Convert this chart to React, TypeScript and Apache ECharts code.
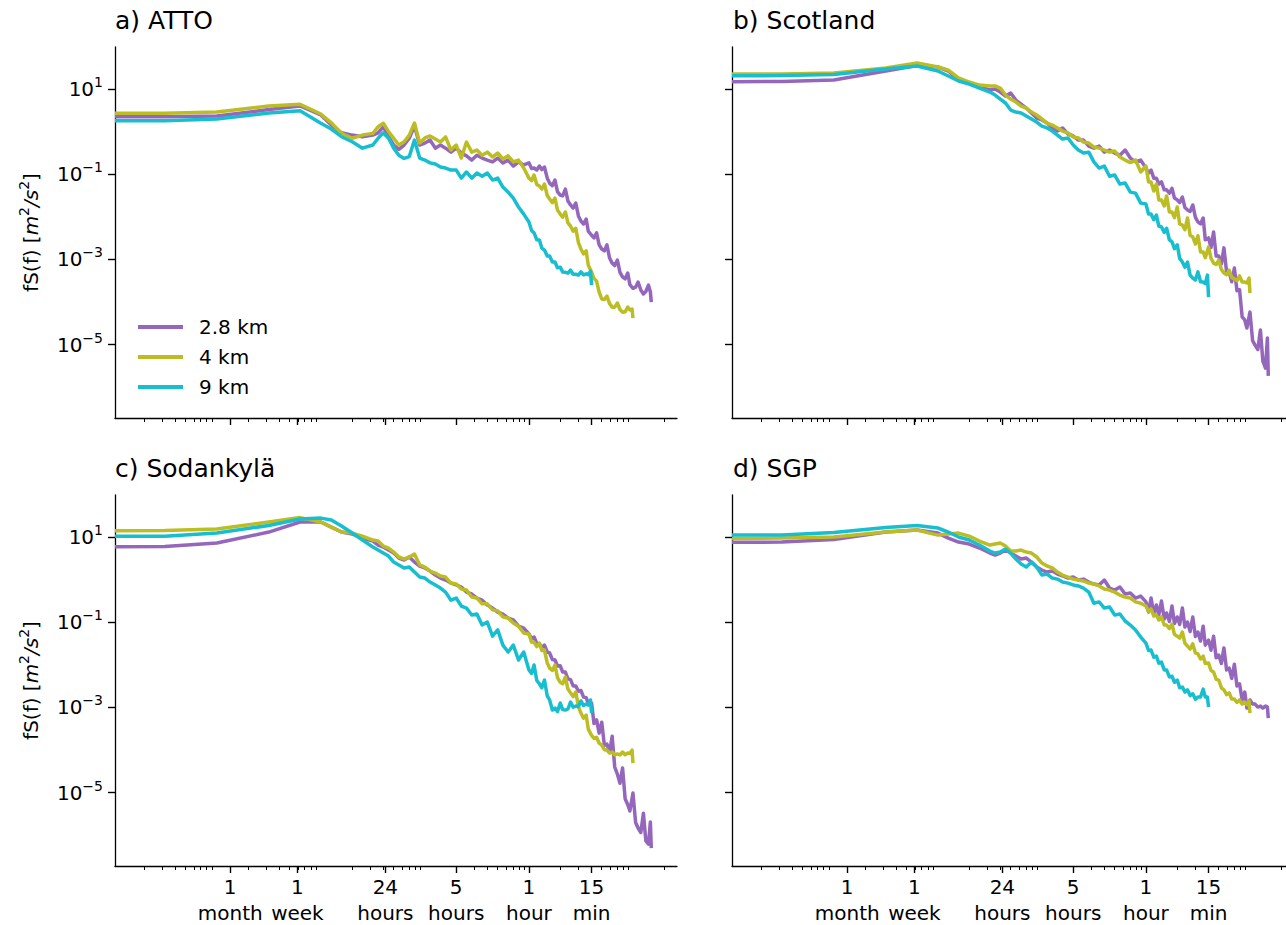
import { useEffect, useRef } from 'react';
import * as echarts from 'echarts';

// Frequency (cycles per hour)
const FREQ_PER_HOUR = [
  1.05e-4, 3.16e-4, 1e-3, 3.16e-3, 6.31e-3, 0.01, 0.0126, 0.0158, 0.02, 0.0251,
  0.0316, 0.0355, 0.0398, 0.0447, 0.0501, 0.0562, 0.0631, 0.0708, 0.0794, 0.0891,
  0.1, 0.112, 0.126, 0.141, 0.158, 0.178, 0.2, 0.224, 0.251, 0.282,
  0.316, 0.355, 0.398, 0.447, 0.501, 0.562, 0.631, 0.708, 0.794, 0.891,
  1, 1.12, 1.26, 1.41, 1.58, 1.78, 2, 2.24, 2.51, 2.82,
  3.16, 3.55, 3.9, 4, 4.47, 5.01, 5.62, 6.31, 7.08, 7.94,
  8.91, 9.8, 10, 11.2, 12.6, 14.1, 14.7, 15,
];
// Extra high-frequency samples (other edge of the noisy band)
const FREQ_MID_PER_HOUR = [
  1.06, 1.19, 1.33, 1.5, 1.68, 1.88, 2.11, 2.37, 2.66, 2.99,
  3.35, 3.72, 4.22, 4.73, 5.31, 5.96, 6.68, 7.5, 8.41, 9.34,
  10.6, 11.9, 13.3,
];

const SERIES_NAMES = ['2.8 km', '4 km', '9 km'];
const SERIES_COLORS = ['#9467bd', '#bcbd22', '#17becf'];
const PANEL_TITLES = ['a) ATTO', 'b) Scotland', 'c) Sodankylä', 'd) SGP'];

const X_TICK_VALUES = [0.001344, 0.005952, 0.041667, 0.2, 1, 4];
const X_TICK_LABELS = ['1\nmonth', '1\nweek', '24\nhours', '5\nhours', '1\nhour', '15\nmin'];
const X_MINOR_TICKS = [
  2e-4, 3e-4, 4e-4, 5e-4, 6e-4, 7e-4, 8e-4, 9e-4,
  0.002, 0.003, 0.004, 0.005, 0.006, 0.007, 0.008, 0.009,
  0.02, 0.03, 0.04, 0.05, 0.06, 0.07, 0.08, 0.09,
  0.2, 0.3, 0.4, 0.5, 0.6, 0.7, 0.8, 0.9,
  2, 3, 4, 5, 6, 7, 8, 9, 20,
];
const Y_TICK_VALUES = [10, 0.1, 0.001, 0.00001];
const X_MIN = 1.05e-4;
const X_MAX = 26.5;
const Y_MIN = 1.9e-7;
const Y_MAX = 97;

// fS(f) [m2/s2]
const ATTO_2P8KM = [
  2.24, 2.25, 2.33, 3.3, 4.0, 2.46, 1.43, 0.94, 0.83, 0.76,
  0.83, 0.94, 1.3, 0.76, 0.485, 0.385, 0.485, 0.70, 1.35, 0.485,
  0.54, 0.635, 0.41, 0.485, 0.41, 0.33, 0.41, 0.315, 0.27, 0.215,
  0.28, 0.24, 0.215, 0.195, 0.24, 0.185, 0.215, 0.156, 0.195, 0.165,
  0.185, 0.14, 0.156, 0.148, 0.062, 0.073, 0.0325, 0.045, 0.019, 0.021,
  0.008, 0.0089, null, 0.0037, 0.0042, 0.00176, 0.0022, 8.2e-4, 9.7e-4, 3.9e-4,
  4.8e-4, null, 2.1e-4, 2.95e-4, 1.55e-4, 2.5e-4, 1.72e-4, 1.0e-4,
];
const ATTO_2P8KM_MID = [
  0.137, 0.126, 0.129, 0.081, 0.054, 0.039, 0.031, 0.0236, 0.0161, 0.0105,
  0.0068, 0.0046, 0.0032, 0.0022, 0.00159, 0.00108, 7.2e-4, 5.0e-4, 3.5e-4, 2.56e-4,
  2.23e-4, 1.92e-4, 1.77e-4,
];
const ATTO_4KM = [
  2.7, 2.7, 2.88, 4.0, 4.37, 2.59, 1.61, 0.91, 0.70, 0.83,
  0.91, 1.3, 1.57, 1.0, 0.70, 0.485, 0.58, 0.83, 1.59, 0.54,
  0.71, 0.79, 0.67, 0.57, 0.75, 0.37, 0.485, 0.24, 0.57, 0.33,
  0.37, 0.28, 0.33, 0.254, 0.315, 0.228, 0.27, 0.195, 0.215, 0.14,
  0.081, 0.096, 0.053, 0.059, 0.0262, 0.0275, 0.0116, 0.013, 0.0061, 0.0054,
  0.00176, 0.00159, null, 5.1e-4, 3.1e-4, 1.18e-4, 1.38e-4, 7.6e-5, 9.5e-5, 5.8e-5,
  7.6e-5, 6.85e-5, 4.2e-5, null, null, null, null, null,
];
const ATTO_4KM_MID = [
  0.071, 0.0575, 0.045, 0.0317, 0.0216, 0.0144, 0.0099, 0.0072, 0.0046, 0.00248,
  0.00135, 7.3e-4, 3.57e-4, 1.72e-4, 1.15e-4, 9.2e-5, 7.6e-5, 6.7e-5, 5.9e-5, 6.5e-5,
  null, null, null,
];
const ATTO_9KM = [
  1.81, 1.81, 1.98, 2.74, 3.1, 1.57, 1.15, 0.76, 0.58, 0.41,
  0.485, 0.70, 0.94, 0.70, 0.41, 0.28, 0.235, 0.26, 0.635, 0.24,
  0.215, 0.185, 0.174, 0.148, 0.14, 0.125, 0.125, 0.081, 0.113, 0.081,
  0.107, 0.09, 0.107, 0.073, 0.081, 0.05, 0.038, 0.0275, 0.017, 0.0116,
  0.0076, 0.0042, 0.00285, 0.00166, 0.0012, 8.7e-4, 6.6e-4, 5.0e-4, 5.6e-4, 4.5e-4,
  5.1e-4, 4.6e-4, 5.3e-4, 2.5e-4, null, null, null, null, null, null,
  null, null, null, null, null, null, null, null,
];
const ATTO_9KM_MID = [
  0.0048, 0.0029, 0.00185, 0.0012, 8.7e-4, 6.4e-4, 5.1e-4, 4.75e-4, 4.5e-4, 4.3e-4,
  4.35e-4, 4.4e-4, null, null, null, null, null, null, null, null,
  null, null, null,
];

const SCOTLAND_2P8KM = [
  14.9, 15.0, 16.3, 26.5, 35.6, 32.9, 26.5, 16.3, 13.8, 11.2,
  9.47, 10, 8.5, 6.85, 8.06, 5.52, 4.45, 3.58, 2.74, 2.09,
  1.88, 1.59, 1.22, 1.03, 1.22, 0.88, 0.79, 0.635, 0.635, 0.46,
  0.41, 0.46, 0.33, 0.37, 0.315, 0.28, 0.37, 0.24, 0.195, 0.215,
  0.14, 0.125, 0.081, 0.066, 0.043, 0.047, 0.025, 0.029, 0.0145, 0.019,
  0.0076, 0.0094, null, 0.0032, 0.0044, 0.0012, 0.00187, 5.1e-4, 6.3e-4, 1.95e-4,
  3.8e-5, null, 5.8e-5, 9.8e-6, 2.2e-5, 2.8e-6, 1.43e-5, 1.85e-6,
];
const SCOTLAND_2P8KM_MID = [
  0.107, 0.081, 0.059, 0.043, 0.036, 0.0276, 0.0217, 0.0165, 0.0134, 0.0097,
  0.0068, 0.0029, 0.0019, 0.0012, 7.8e-4, 5.1e-4, 3.0e-4, 1.85e-4, 4.5e-5, 2.46e-5,
  1.25e-5, 7.7e-6, 4.1e-6,
];
const SCOTLAND_4KM = [
  22.5, 22.5, 23.8, 31.2, 40.8, 32.9, 27.8, 18.2, 14.6, 12.4,
  11.8, 11.8, 10.5, 7.23, 5.83, 4.96, 3.99, 3.58, 2.88, 2.46,
  1.98, 1.59, 1.43, 1.22, 1.03, 0.93, 0.75, 0.71, 0.57, 0.54,
  0.435, 0.41, 0.37, 0.33, 0.35, 0.254, 0.215, 0.188, 0.215, 0.113,
  0.156, 0.066, 0.059, 0.025, 0.031, 0.013, 0.017, 0.0064, 0.0094, 0.0034,
  0.0036, 0.0015, null, 0.00195, 8.2e-4, 9.7e-4, 4.8e-4, 5.6e-4, 3.5e-4, 4.1e-4,
  2.95e-4, 3.65e-4, 1.63e-4, null, null, null, null, null,
];
const SCOTLAND_4KM_MID = [
  0.0658, 0.0405, 0.0249, 0.018, 0.013, 0.0096, 0.0068, 0.005, 0.00366, 0.0023,
  0.0015, 0.0011, 0.00107, 7.6e-4, 5.8e-4, 4.4e-4, 3.8e-4, 3.2e-4, 2.95e-4, 2.8e-4,
  null, null, null,
];
const SCOTLAND_9KM = [
  20.5, 20.7, 21.9, 29.5, 34.7, 26.5, 20.2, 15.4, 13.1, 10.5,
  8.5, 7.23, 5.83, 4.7, 3.21, 2.88, 2.74, 2.33, 1.98, 1.68,
  1.35, 1.22, 1.03, 0.83, 0.67, 0.71, 0.485, 0.37, 0.315, 0.33,
  0.195, 0.14, 0.156, 0.09, 0.096, 0.059, 0.062, 0.038, 0.036, 0.021,
  0.02, 0.0116, 0.011, 0.0058, 0.0054, 0.0026, 0.0022, 8.7e-4, 8.7e-4, 3.65e-4,
  5.1e-4, 2.95e-4, 4.3e-4, 1.3e-4, null, null, null, null, null, null,
  null, null, null, null, null, null, null, null,
];
const SCOTLAND_9KM_MID = [
  0.0116, 0.0086, 0.0061, 0.0043, 0.0029, 0.0018, 0.00106, 6.6e-4, 4.3e-4, 3.3e-4,
  3.0e-4, 2.7e-4, null, null, null, null, null, null, null, null,
  null, null, null,
];

const SODANKYLA_2P8KM = [
  5.93, 5.99, 7.23, 13.1, 22.5, 22.5, 17.1, 13.1, 11.8, 9.47,
  8.06, 6.49, 5.83, 4.96, 4.21, 3.21, 2.88, 3.4, 2.59, 2.09,
  1.88, 1.59, 1.28, 1.09, 0.98, 0.83, 0.75, 0.67, 0.51, 0.46,
  0.37, 0.33, 0.254, 0.215, 0.174, 0.156, 0.125, 0.113, 0.081, 0.073,
  0.053, 0.045, 0.031, 0.029, 0.019, 0.013, 0.0095, 0.0068, 0.0045, 0.0032,
  0.0025, 0.0017, null, 0.00127, 5.1e-4, 4.5e-4, 1.38e-4, 2.1e-4, 2.74e-5, 3.8e-5,
  5.2e-6, null, 9.8e-6, 1.48e-6, 3.3e-6, 6.2e-7, 2.05e-6, 5.0e-7,
];
const SODANKYLA_2P8KM_MID = [
  0.0415, 0.0317, 0.0255, 0.02, 0.0134, 0.0094, 0.0068, 0.0047, 0.0032, 0.0024,
  0.00175, 0.00125, 4.2e-4, 2.5e-4, 1.3e-4, 8.9e-5, 4.0e-5, 1.66e-5, 7.2e-6, 3.7e-6,
  2.0e-6, 1.16e-6, 7.4e-7,
];
const SODANKYLA_4KM = [
  14.0, 14.2, 15.4, 22.5, 28.6, 22.5, 17.1, 13.1, 12.4, 10.5,
  8.5, 8.06, 6.15, 5.52, 4.45, 3.4, 3.05, 3.4, 3.99, 2.21,
  1.98, 1.59, 1.43, 1.22, 1.15, 0.83, 0.79, 0.60, 0.57, 0.39,
  0.37, 0.27, 0.27, 0.195, 0.185, 0.133, 0.125, 0.096, 0.081, 0.056,
  0.053, 0.034, 0.0325, 0.0223, 0.0084, 0.0099, 0.0039, 0.0052, 0.0022, 0.0023,
  7.4e-4, 6.6e-4, null, 2.2e-4, 2.0e-4, 1.3e-4, 1.0e-4, 9.0e-5, 8.1e-5, 9.0e-5,
  8.5e-5, 1.0e-4, 4.96e-5, null, null, null, null, null,
];
const SODANKYLA_4KM_MID = [
  0.0342, 0.0268, 0.0217, 0.011, 0.0074, 0.005, 0.0036, 0.0027, 0.0018, 0.00105,
  5.6e-4, 3.1e-4, 1.88e-4, 1.45e-4, 1.02e-4, 8.5e-5, 7.7e-5, 7.7e-5, 7.8e-5, 8.3e-5,
  null, null, null,
];
const SODANKYLA_9KM = [
  10.5, 10.5, 12.4, 18.7, 26.5, 27.8, 25.1, 18.2, 12.4, 8.5,
  5.83, 4.96, 4.21, 3.58, 2.59, 2.21, 1.88, 1.98, 1.51, 1.15,
  1.09, 0.88, 0.75, 0.635, 0.51, 0.33, 0.37, 0.24, 0.215, 0.148,
  0.156, 0.086, 0.101, 0.047, 0.066, 0.029, 0.02, 0.029, 0.013, 0.02,
  0.0076, 0.0099, 0.0036, 0.0044, 0.0015, 9.7e-4, 0.00127, 8.7e-4, 0.00134, 0.00108,
  0.00142, 0.0012, 0.0015, 7.4e-4, null, null, null, null, null, null,
  null, null, null, null, null, null, null, null,
];
const SODANKYLA_9KM_MID = [
  0.0063, 0.0043, 0.0029, 0.00186, 8.7e-4, 8.0e-4, 8.9e-4, 9.2e-4, 0.00102, 0.00105,
  0.00111, 0.00114, null, null, null, null, null, null, null, null,
  null, null, null,
];

const SGP_2P8KM = [
  7.5, 7.63, 8.7, 13.1, 14.6, 12.4, 9.47, 7.63, 6.85, 5.52,
  4.21, 3.78, 4.21, 4.96, 4.21, 3.58, 3.05, 3.21, 2.59, 1.98,
  1.68, 1.51, 1.59, 1.35, 1.22, 1.09, 1.15, 0.98, 1.03, 0.88,
  0.79, 0.75, 0.98, 0.635, 0.57, 0.67, 0.46, 0.485, 0.37, 0.41,
  0.30, 0.37, 0.254, 0.315, 0.165, 0.24, 0.133, 0.215, 0.101, 0.133,
  0.059, 0.081, null, 0.038, 0.047, 0.017, 0.025, 0.0084, 0.0103, 0.0036,
  0.0023, null, 0.0015, 0.0012, 0.00108, 0.00108, 0.00102, 5.6e-4,
];
const SGP_2P8KM_MID = [
  0.174, 0.16, 0.148, 0.119, 0.104, 0.0935, 0.0887, 0.0774, 0.0605, 0.0463,
  0.0362, 0.029, 0.0221, 0.0147, 0.0108, 0.0076, 0.0048, 0.0032, 0.0015, 9.7e-4,
  0.0012, 0.00102, 9.7e-4,
];
const SGP_4KM = [
  9.3, 9.47, 10, 13.1, 14.6, 11.1, 11.8, 12.4, 10.5, 8.06,
  6.49, 6.85, 7.23, 6.15, 4.7, 4.7, 4.96, 4.45, 4.21, 3.4,
  2.46, 2.09, 1.88, 1.51, 1.28, 1.15, 1.03, 0.98, 0.93, 0.83,
  0.79, 0.71, 0.60, 0.57, 0.51, 0.435, 0.39, 0.37, 0.30, 0.28,
  0.24, 0.205, 0.148, 0.133, 0.086, 0.09, 0.047, 0.059, 0.0275, 0.031,
  0.018, 0.016, null, 0.011, 0.0068, 0.0044, 0.0026, 0.0022, 0.00158, 0.0015,
  0.00134, 0.00142, 7.4e-4, null, null, null, null, null,
];
const SGP_4KM_MID = [
  0.179, 0.14, 0.113, 0.086, 0.071, 0.052, 0.0425, 0.0325, 0.0235, 0.019,
  0.0137, 0.0107, 0.0074, 0.0046, 0.0029, 0.002, 0.00158, 0.00131, 0.0012, 0.00117,
  null, null, null,
];
const SGP_9KM = [
  11.1, 11.2, 12.8, 16.7, 18.7, 16.3, 13.1, 10, 8.5, 6.49,
  4.7, 4.21, 4.45, 5.23, 4.21, 3.05, 2.33, 1.98, 2.59, 1.98,
  1.28, 1.35, 1.09, 1.03, 0.88, 0.83, 0.75, 0.71, 0.635, 0.51,
  0.28, 0.30, 0.215, 0.228, 0.148, 0.156, 0.107, 0.086, 0.066, 0.045,
  0.0325, 0.0223, 0.016, 0.0116, 0.0076, 0.0054, 0.0044, 0.003, 0.0026, 0.0021,
  0.00176, 0.0027, 0.00176, 0.00102, null, null, null, null, null, null,
  null, null, null, null, null, null, null, null,
];
const SGP_9KM_MID = [
  0.0217, 0.0152, 0.011, 0.0076, 0.0052, 0.0039, 0.0029, 0.0023, 0.0019, 0.00155,
  0.00176, 0.00176, null, null, null, null, null, null, null, null,
  null, null, null,
];

const PANEL_SERIES = [
  [ATTO_2P8KM, ATTO_4KM, ATTO_9KM],
  [SCOTLAND_2P8KM, SCOTLAND_4KM, SCOTLAND_9KM],
  [SODANKYLA_2P8KM, SODANKYLA_4KM, SODANKYLA_9KM],
  [SGP_2P8KM, SGP_4KM, SGP_9KM],
];
const PANEL_SERIES_MID = [
  [ATTO_2P8KM_MID, ATTO_4KM_MID, ATTO_9KM_MID],
  [SCOTLAND_2P8KM_MID, SCOTLAND_4KM_MID, SCOTLAND_9KM_MID],
  [SODANKYLA_2P8KM_MID, SODANKYLA_4KM_MID, SODANKYLA_9KM_MID],
  [SGP_2P8KM_MID, SGP_4KM_MID, SGP_9KM_MID],
];

const FONT = 'DejaVu Sans';
const GRIDS = [
  { left: 115, top: 47, width: 562, height: 371 },
  { left: 732, top: 47, width: 562, height: 371 },
  { left: 115, top: 495, width: 562, height: 371 },
  { left: 732, top: 495, width: 562, height: 371 },
];

function xLabel(v: number): string {
  let best = 0;
  let bestD = Infinity;
  X_TICK_VALUES.forEach((t, i) => {
    const d = Math.abs(Math.log10(v) - Math.log10(t));
    if (d < bestD) { bestD = d; best = i; }
  });
  return X_TICK_LABELS[best];
}

function yLabel(v: number): string {
  const e = Math.round(Math.log10(v));
  return '10{sup|' + (e < 0 ? '\u2212' + String(-e) : String(e)) + '}';
}

function seriesData(vals: (number | null)[], mids: (number | null)[]): number[][] {
  const pts: number[][] = [];
  vals.forEach((v, i) => { if (v !== null) pts.push([FREQ_PER_HOUR[i], v]); });
  mids.forEach((v, i) => { if (v !== null) pts.push([FREQ_MID_PER_HOUR[i], v]); });
  pts.sort((a, b) => a[0] - b[0]);
  return pts;
}

function buildOption() {
  const xAxis: any[] = [];
  const yAxis: any[] = [];
  const series: any[] = [];
  GRIDS.forEach((_, p) => {
    const bottomRow = p >= 2;
    const leftCol = p % 2 === 0;
    xAxis.push({
      type: 'log', gridIndex: p, min: X_MIN, max: X_MAX, position: 'bottom',
      axisLine: { show: true, lineStyle: { color: '#000', width: 1.3 } },
      axisTick: { show: true, customValues: X_TICK_VALUES, length: 7, lineStyle: { color: '#000', width: 1.4 } },
      axisLabel: {
        show: bottomRow, customValues: X_TICK_VALUES, formatter: xLabel,
        fontSize: 20, fontFamily: FONT, color: '#000', lineHeight: 26, margin: 8,
      },
      minorTick: { show: false }, splitLine: { show: false },
    });
    xAxis.push({
      type: 'log', gridIndex: p, min: X_MIN, max: X_MAX, position: 'bottom',
      axisLine: { show: false },
      axisTick: { show: true, customValues: X_MINOR_TICKS, length: 4, lineStyle: { color: '#000', width: 1 } },
      axisLabel: { show: false },
      minorTick: { show: false }, splitLine: { show: false },
    });
    yAxis.push({
      type: 'log', gridIndex: p, min: Y_MIN, max: Y_MAX,
      axisLine: { show: true, lineStyle: { color: '#000', width: 1.3 } },
      axisTick: { show: true, customValues: Y_TICK_VALUES, length: 7, lineStyle: { color: '#000', width: 1.4 } },
      axisLabel: {
        show: leftCol, customValues: Y_TICK_VALUES, formatter: yLabel,
        fontSize: 20, fontFamily: FONT, color: '#000', margin: 12,
        rich: { sup: { fontSize: 14, fontFamily: FONT, color: '#000', padding: [0, 0, 14, 0] } },
      },
      minorTick: { show: false }, splitLine: { show: false },
      name: leftCol ? 'fS(f) [{it|m}{sup|2}{it|/s}{sup|2}]' : '',
      nameLocation: 'middle', nameGap: 70, nameMoveOverlap: false,
      nameTextStyle: {
        fontSize: 20, fontFamily: FONT, color: '#000',
        rich: {
          it: { fontSize: 20, fontFamily: FONT, fontStyle: 'italic', color: '#000' },
          sup: { fontSize: 14, fontFamily: FONT, color: '#000', padding: [0, 0, 14, 0] },
        },
      },
    });
    PANEL_SERIES[p].forEach((vals, s) => {
      series.push({
        type: 'line', name: SERIES_NAMES[s], xAxisIndex: 2 * p, yAxisIndex: p,
        data: seriesData(vals, PANEL_SERIES_MID[p][s]),
        symbol: 'none', showSymbol: false, silent: true,
        lineStyle: { width: 3.5, color: SERIES_COLORS[s], join: 'round' },
        itemStyle: { color: SERIES_COLORS[s] },
      });
    });
  });

  return {
    animation: false,
    backgroundColor: '#fff',
    title: PANEL_TITLES.map((t, i) => ({
      text: t, left: i % 2 ? 733 : 115, top: i < 2 ? 8 : 456, padding: 0,
      textStyle: { fontSize: 25, fontWeight: 'normal', fontFamily: FONT, color: '#000' },
    })),
    legend: {
      show: true, data: SERIES_NAMES, orient: 'vertical', left: 133, top: 312,
      itemWidth: 45, itemHeight: 4, itemGap: 10, icon: 'rect', selectedMode: false,
      textStyle: { fontSize: 20, fontFamily: FONT, color: '#000', lineHeight: 20, padding: [0, 0, 0, 11] },
    },
    grid: GRIDS.map((g) => ({ ...g, containLabel: false, outerBoundsMode: 'none' })),
    xAxis,
    yAxis,
    series,
  };
}

export default function App() {
  const ref = useRef<HTMLDivElement>(null);
  useEffect(() => {
    if (!ref.current) return;
    const chart = echarts.init(ref.current, null, { renderer: 'svg' });
    chart.setOption(buildOption() as any);
    return () => chart.dispose();
  }, []);
  return (
    <div
      ref={ref}
      style={{ position: 'absolute', left: 0, top: 0, width: 1286, height: 925, background: '#fff' }}
    />
  );
}
